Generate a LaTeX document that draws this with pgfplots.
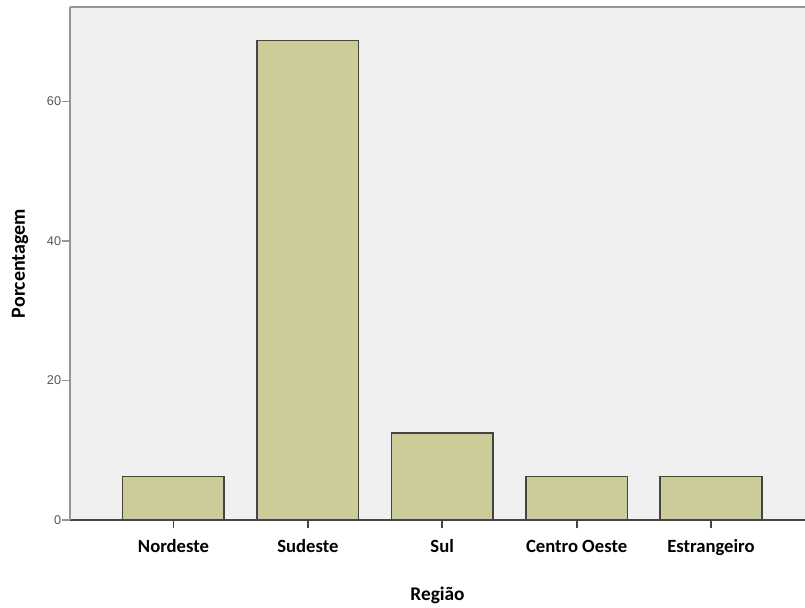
\documentclass[border=0pt]{standalone}
\usepackage{pgfplots}
\pgfplotsset{compat=1.18}
\usepackage{fontspec}
\setmainfont{Carlito}
\newfontfamily\arialf{Liberation Sans}
\definecolor{barfill}{RGB}{204,204,153}
\definecolor{bg}{RGB}{240,240,240}
\definecolor{edge}{RGB}{68,68,68}
\definecolor{frame}{RGB}{150,150,150}
\definecolor{ticktext}{RGB}{85,85,85}
\begin{document}
\begin{tikzpicture}
\begin{axis}[
  scale only axis,
  width=551.25pt, height=384.75pt,
  xmin=-0.77, xmax=4.70, ymin=0, ymax=73.55,
  axis lines=left,
  axis line style={-},
  x axis line style={draw=edge, line width=1pt},
  y axis line style={draw=frame, line width=1.5pt},
  axis background/.style={fill=bg},
  ybar, bar width=0.756,
  xtick={0,1,2,3,4},
  xticklabels={Nordeste,Sudeste,Sul,Centro Oeste,Estrangeiro},
  ytick={0,20,40,60},
  tick align=outside,
  major tick length=6pt,
  x tick style={draw=edge, line width=1.4pt},
  y tick style={draw=frame, line width=0.8pt},
  /pgf/number format/assume math mode=true,
  yticklabel style={font=\arialf\fontsize{9.5}{11}\selectfont, text=ticktext, inner sep=0.5pt},
  xticklabel style={font=\fontsize{14}{16}\selectfont\bfseries, anchor=base, yshift=-18pt},
  xlabel={Região},
  xlabel style={font=\fontsize{14.5}{17}\selectfont\bfseries, at={(rel axis cs:0.5,0)}, anchor=center, yshift=-56.25pt},
  ylabel={Porcentagem},
  ylabel style={font=\fontsize{15}{17}\selectfont\bfseries, at={([xshift=-37.5pt]rel axis cs:0,0.5)}, anchor=center, rotate=0},
  clip=false,
]
\addplot[fill=barfill, draw=edge, line width=1.2pt] coordinates {
  (0,6.25) (1,68.75) (2,12.5) (3,6.25) (4,6.25)
};
\draw[frame, line width=1.5pt] (rel axis cs:0,1) -- (rel axis cs:1,1);
\coordinate (sw) at (rel axis cs:0,0);
\coordinate (ne) at (rel axis cs:1,1);
\end{axis}
\pgfresetboundingbox
\path ([shift={(-52.5pt,-65.25pt)}]sw) rectangle ([shift={(0pt,5.25pt)}]ne);
\end{tikzpicture}
\end{document}
